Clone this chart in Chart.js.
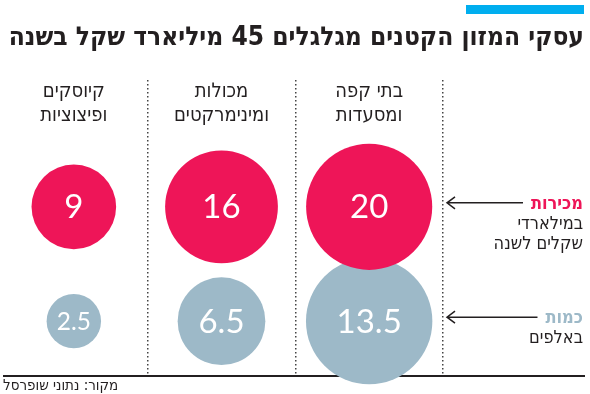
<!DOCTYPE html>
<html lang="he">
<head>
<meta charset="utf-8">
<script src="https://cdn.jsdelivr.net/npm/chart.js@4"></script>
<style>
  html, body { margin: 0; padding: 0; background: #fff; }
  #wrap { width: 590px; height: 394px; position: relative; }
</style>
</head>
<body>
<div id="wrap"><canvas id="myChart"></canvas></div>
<script>
const title = "עסקי המזון הקטנים מגלגלים 45 מיליארד שקל בשנה";
const source = "מקור: נתוני שופרסל";
const categories = [["בתי קפה", "ומסעדות"], ["מכולות", "ומינימרקטים"], ["קיוסקים", "ופיצוציות"]];
const sales = [20, 16, 9]; // billions of shekels a year
const amounts = [13.5, 6.5, 2.5]; // thousands of businesses
const salesLabel = ["מכירות", "במילארדי", "שקלים לשנה"];
const amountsLabel = ["כמות", "באלפים"];

const pink = "#ee1558";
const blue = "#9db9c8";
const ink = "#231f20";
const heb = "'DejaVu Sans Condensed', 'DejaVu Sans', sans-serif";
const num = "Lato, 'Noto Sans', sans-serif";

// circle area ~ value, each row has its own scale
const rowSales = 1;
const rowAmounts = 0;
function bubbles(values, row, k) {
  return values.map((v, i) => ({ x: i, y: row, r: Math.sqrt(v) * k, v: v }));
}

function drawArrow(c, x0, x1, y) {
  c.beginPath();
  c.moveTo(x1, y);
  c.lineTo(x0, y);
  c.moveTo(x0 + 8, y - 6);
  c.lineTo(x0, y);
  c.lineTo(x0 + 8, y + 6);
  c.stroke();
}

const decor = {
  id: "decor",
  beforeDatasetsDraw(chart) {
    const c = chart.ctx;
    const xs = chart.scales.x;
    const ys = chart.scales.y;
    const area = chart.chartArea;
    c.save();

    // top bar + title
    c.fillStyle = "#00aeef";
    c.fillRect(466, 5, 118, 9);
    c.direction = "rtl";
    c.textAlign = "right";
    c.fillStyle = ink;
    c.font = "bold 27px " + heb;
    const tw = c.measureText(title).width;
    const ts = Math.min(27, 27 * 576 / tw);
    c.font = "bold " + ts.toFixed(1) + "px " + heb;
    c.fillText(title, 584, 45);

    // baseline
    c.strokeStyle = ink;
    c.lineWidth = 2;
    c.beginPath();
    c.moveTo(3, area.bottom);
    c.lineTo(585, area.bottom);
    c.stroke();

    // column heads
    c.textAlign = "center";
    c.font = "20px " + heb;
    categories.forEach((lines, i) => {
      const px = xs.getPixelForValue(i);
      lines.forEach((t, j) => c.fillText(t, px, 97 + j * 24));
    });

    // row labels on the right
    c.textAlign = "right";
    c.lineWidth = 1.5;
    const rows = [
      { lines: salesLabel, color: pink, y: ys.getPixelForValue(rowSales) },
      { lines: amountsLabel, color: blue, y: ys.getPixelForValue(rowAmounts) }
    ];
    rows.forEach(r => {
      r.lines.forEach((t, j) => {
        c.font = (j === 0 ? "bold " : "") + "18px " + heb;
        c.fillStyle = j === 0 ? r.color : ink;
        c.fillText(t, 583, r.y + 2 + j * 20);
      });
      c.font = "bold 18px " + heb;
      const w = c.measureText(r.lines[0]).width;
      c.strokeStyle = ink;
      drawArrow(c, area.right + 4, 583 - w - 8, r.y - 4);
    });

    // source
    c.textAlign = "left";
    c.fillStyle = ink;
    c.font = "15px " + heb;
    c.fillText(source, 3, 390);
    c.restore();
  },
  afterDatasetsDraw(chart) {
    const c = chart.ctx;
    c.save();
    c.fillStyle = "#fff";
    c.textAlign = "center";
    c.textBaseline = "middle";
    chart.data.datasets.forEach((ds, d) => {
      chart.getDatasetMeta(d).data.forEach((el, i) => {
        const p = ds.data[i];
        const size = Math.min(33, p.r * 0.9);
        c.font = size + "px " + num;
        c.fillText(String(p.v), el.x, el.y + 1);
      });
    });
    c.restore();
  }
};

new Chart(document.getElementById("myChart"), {
  type: "bubble",
  data: {
    labels: categories,
    datasets: [
      {
        label: salesLabel.join(" "),
        data: bubbles(sales, rowSales, 14.1),
        backgroundColor: pink,
        borderWidth: 0,
        hoverRadius: 0,
        clip: false
      },
      {
        label: amountsLabel.join(" "),
        data: bubbles(amounts, rowAmounts, 17.2),
        backgroundColor: blue,
        borderWidth: 0,
        hoverRadius: 0,
        clip: false
      }
    ]
  },
  options: {
    responsive: true,
    maintainAspectRatio: false,
    animation: false,
    events: [],
    layout: { autoPadding: false, padding: { top: 80, bottom: 18, left: 0, right: 147 } },
    plugins: { legend: { display: false }, tooltip: { enabled: false } },
    scales: {
      x: {
        type: "category",
        reverse: true,
        offset: true,
        afterFit: (s) => { s.height = 0; },
        ticks: { display: false },
        border: { display: false, dash: [1.5, 2.5] },
        grid: {
          offset: true,
          drawTicks: false,
          lineWidth: 1.5,
          // no divider on the far left edge
          color: (c) => (c.type !== "tick" || c.index >= categories.length ? "rgba(0,0,0,0)" : "#444")
        }
      },
      y: {
        type: "linear",
        display: false,
        min: -0.48,
        max: 2.11
      }
    }
  },
  plugins: [decor]
});
</script>
</body>
</html>
